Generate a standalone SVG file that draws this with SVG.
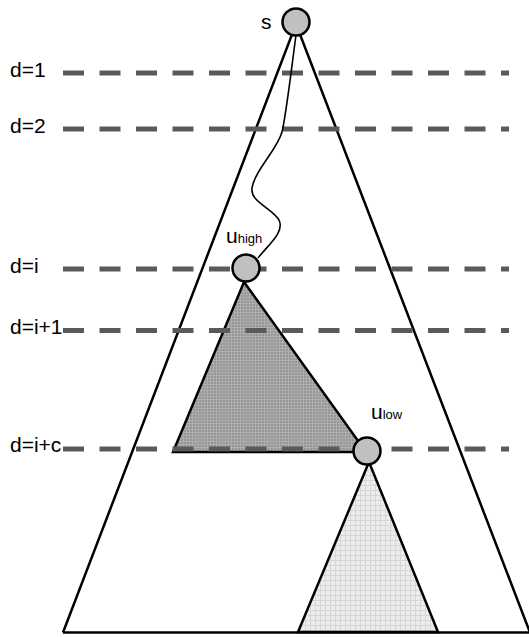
<svg xmlns="http://www.w3.org/2000/svg" width="529" height="637" viewBox="0 0 529 637">
<style>
.lbl{font-family:"Liberation Sans",Arial,sans-serif;font-size:21px;fill:#000}
.sub{font-size:13px}
.lvl{fill:none;stroke:#5a5a5a;stroke-width:5;stroke-dasharray:21 15.5}
.edge{fill:none;stroke:#000;stroke-width:2.5;stroke-linejoin:miter}
.node{fill:#c0c0c0;stroke:#000;stroke-width:2.5}
</style>
<defs>
<pattern id="darkGrid" width="3" height="3" patternUnits="userSpaceOnUse">
<rect width="3" height="3" fill="#969696"/>
<path d="M0 0.5H3M0.5 0V3" stroke="#aeaeae" stroke-width="1"/>
</pattern>
<pattern id="lightGrid" width="5" height="5" patternUnits="userSpaceOnUse">
<rect width="5" height="5" fill="#ececec"/>
<path d="M0 0.5H5M0.5 0V5" stroke="#d6d6d6" stroke-width="1"/>
</pattern>
</defs>
<rect width="529" height="637" fill="#fff"/>
<g id="tree">
<polyline class="edge" points="63,632.5 296,24 530,632.5"/>
<line class="edge" x1="63" y1="632.5" x2="529" y2="632.5"/>
</g>
<g id="subtree-low">
<polygon points="369,462 298,632 438,632" fill="url(#lightGrid)" stroke="#000" stroke-width="2.5"/>
</g>
<g id="subtree-high">
<polygon points="244,282 366,452 173,452" fill="url(#darkGrid)" stroke="#000" stroke-width="2.5"/>
</g>
<g id="levels">
<line class="lvl" x1="63" y1="73" x2="509" y2="73"/>
<line class="lvl" x1="63" y1="129" x2="509" y2="129"/>
<line class="lvl" x1="63" y1="269" x2="509" y2="269"/>
<line class="lvl" x1="63" y1="330.5" x2="509" y2="330.5"/>
<line class="lvl" x1="63" y1="449" x2="509" y2="449"/>
<text class="lbl" x="10" y="77">d=1</text>
<text class="lbl" x="10" y="133">d=2</text>
<text class="lbl" x="10" y="273">d=i</text>
<text class="lbl" x="10" y="334">d=i+1</text>
<text class="lbl" x="10" y="452">d=i+c</text>
</g>
<g id="connectors">
<path d="M296,35 C290,80 286,115 282,132 C277,150 255,170 252,188 C250,202 272,208 279,220 C285,232 268,245 258,258" fill="none" stroke="#000" stroke-width="1.6"/>
</g>
<g id="node-s">
<circle class="node" cx="296" cy="22" r="13.5"/>
<text class="lbl" x="261" y="29">s</text>
</g>
<g id="node-uhigh">
<circle class="node" cx="246" cy="268" r="13.5"/>
<text class="lbl" x="226" y="243">u<tspan class="sub">high</tspan></text>
</g>
<g id="node-ulow">
<circle class="node" cx="367" cy="451" r="13.5"/>
<text class="lbl" x="371" y="419">u<tspan class="sub">low</tspan></text>
</g>
</svg>
